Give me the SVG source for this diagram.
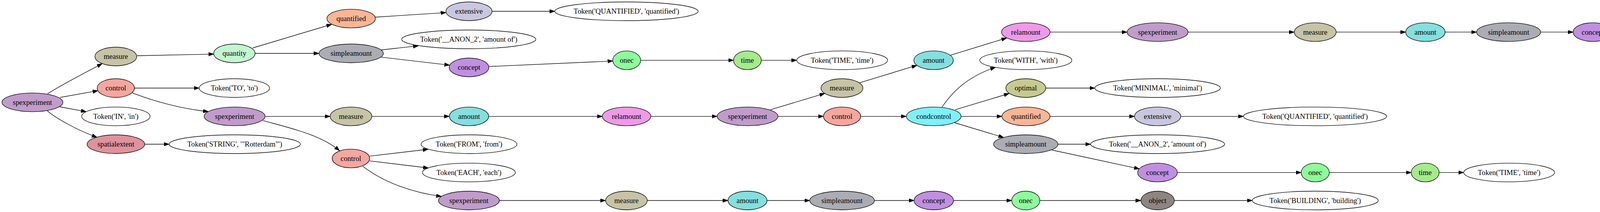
<svg xmlns="http://www.w3.org/2000/svg" width="4756" height="544" viewBox="0 0 4756 544">
<defs>
<marker id="arr" markerUnits="userSpaceOnUse" markerWidth="14" markerHeight="10" refX="13.3" refY="4.67" orient="auto">
<path d="M0,0 L13.3,4.67 L0,9.33 Z" fill="#000" stroke="#000" stroke-width="1"/>
</marker>
<style>
ellipse{stroke:#000;stroke-width:1.33}
text{font-family:"Liberation Serif","Times New Roman",serif;font-size:18.67px;text-anchor:middle;fill:#000}
.e path{fill:none;stroke:#000;stroke-width:1.33;marker-end:url(#arr)}
.tok{fill:#fff}
.spexp{fill:#c09ccb}
.measure{fill:#c6c3a6}
.control{fill:#f5a69f}
.spatial{fill:#df929c}
.quantity{fill:#c4f5d1}
.quantified{fill:#f9b596}
.simple{fill:#abacb4}
.extensive{fill:#c9c7df}
.concept{fill:#c18fe0}
.amount{fill:#85dfdf}
.onec{fill:#8efb9b}
.relamount{fill:#ee9ae8}
.time{fill:#a5ea8b}
.cond{fill:#7ff0f7}
.optimal{fill:#c6ca8f}
.object{fill:#8e8582}
</style>
</defs>
<rect width="4756" height="544" fill="#fff"/>
<g id="edges" class="e">
<path d="M121.7,240.7 C150,222 230,180 261.7,163.3"/>
<path d="M154,250 L250.7,232.7"/>
<path d="M152.7,274 L220.7,286.7"/>
<path d="M120.7,284 C145,305 200,335 248.3,352.3"/>
<path d="M351,143 L547,138.8"/>
<path d="M344.2,226 L510,226"/>
<path d="M339,238.7 C400,262 470,280 533.5,286.3"/>
<path d="M370.4,370 L433,370"/>
<path d="M647,123 L849,62.5"/>
<path d="M653,137 L816.6,137"/>
<path d="M678.6,298.6 L845.2,298.6"/>
<path d="M673.5,309.4 C740,328 820,345 869.3,386.8"/>
<path d="M960.6,44 L1141.7,32.3"/>
<path d="M1259.6,29 L1420.2,29"/>
<path d="M976.4,128 L1071,117.7"/>
<path d="M976.4,146.7 L1151,167.2"/>
<path d="M1251.4,170.7 L1568.9,156.6"/>
<path d="M952,298.6 L1150.4,298.6"/>
<path d="M1251,298.6 L1542,298.6"/>
<path d="M946.3,400.7 L1096,383"/>
<path d="M946.3,412.8 L1096.5,431"/>
<path d="M929,426.7 C985,470 1060,495 1130,504"/>
<path d="M1278.4,514.5 L1550.3,514.5"/>
<path d="M1640.1,154.7 L1877.9,154.7"/>
<path d="M1948.9,154.7 L2039.7,154.7"/>
<path d="M1666,298.6 L1836,298.6"/>
<path d="M1972.2,281.7 L2111.5,239.7"/>
<path d="M1991.6,298.6 L2108,298.6"/>
<path d="M1657.1,514.5 L1863.6,514.5"/>
<path d="M1963.6,514.5 L2072.8,514.5"/>
<path d="M2238.6,514.5 L2340,514.5"/>
<path d="M2200.8,212.3 L2347.3,167.6"/>
<path d="M2203.4,298.6 L2320.3,298.6"/>
<path d="M2433.3,141.7 L2577,97.5"/>
<path d="M2688,82.4 L2885.5,82.4"/>
<path d="M2411.7,275 C2440,232 2480,196 2548.3,172.7"/>
<path d="M2445,281.7 L2583.3,240"/>
<path d="M2460.3,298.6 L2565,298.6"/>
<path d="M2444,315 L2569.3,352.7"/>
<path d="M2677,226 L2802.8,226"/>
<path d="M2688,298.6 L2904.3,298.6"/>
<path d="M2708.4,370 L2792,370"/>
<path d="M2693,385 L2916.8,433.3"/>
<path d="M2441,514.5 L2590,514.5"/>
<path d="M2662,514.5 L2920.7,514.5"/>
<path d="M3041.5,82.4 L3313.4,82.4"/>
<path d="M3022.7,298.6 L3183.2,298.6"/>
<path d="M3014,442.7 L3331,442.7"/>
<path d="M3006.3,514.5 L3205.8,514.5"/>
<path d="M3420.6,82.4 L3598.5,82.4"/>
<path d="M3699.5,82.4 L3780,82.4"/>
<path d="M3403,442.7 L3612.8,442.7"/>
<path d="M3684.2,442.7 L3747.1,442.7"/>
<path d="M3944,82.4 L4027.3,82.4"/>
<path d="M4128.7,82.4 L4178,82.4"/>
<path d="M4250,82.4 L4298.6,82.4"/>
<path d="M4384.6,82.4 L4432.8,82.4"/>
</g>
<g id="n1"><ellipse class="spexp" cx="83" cy="262.6" rx="78" ry="24"/><text x="83" y="269">spexperiment</text></g>
<g id="n2"><ellipse class="measure" cx="296.5" cy="145" rx="53.5" ry="24"/><text x="296.5" y="151.4">measure</text></g>
<g id="n3"><ellipse class="control" cx="296.5" cy="226" rx="47.7" ry="24"/><text x="296.5" y="232.4">control</text></g>
<g id="n4"><ellipse class="tok" cx="296.7" cy="298.6" rx="87.5" ry="24"/><text x="296.7" y="305">Token('IN', 'in')</text></g>
<g id="n5"><ellipse class="spatial" cx="296.7" cy="370" rx="73.7" ry="24"/><text x="296.7" y="376.4">spatialextent</text></g>
<g id="n6"><ellipse class="quantity" cx="600" cy="137" rx="53" ry="24"/><text x="600" y="143.4">quantity</text></g>
<g id="n7"><ellipse class="tok" cx="600" cy="226" rx="90" ry="24"/><text x="600" y="232.4">Token('TO', 'to')</text></g>
<g id="n8"><ellipse class="spexp" cx="600.6" cy="298.6" rx="78" ry="24"/><text x="600.6" y="305">spexperiment</text></g>
<g id="n9"><ellipse class="tok" cx="601" cy="370" rx="168" ry="24"/><text x="601" y="376.4">Token('STRING', '"Rotterdam"')</text></g>
<g id="n10"><ellipse class="quantified" cx="899" cy="47.7" rx="62" ry="24"/><text x="899" y="54.1">quantified</text></g>
<g id="n11"><ellipse class="simple" cx="899" cy="137" rx="82.4" ry="24"/><text x="899" y="143.4">simpleamount</text></g>
<g id="n12"><ellipse class="measure" cx="898.6" cy="298.6" rx="53.4" ry="24"/><text x="898.6" y="305">measure</text></g>
<g id="n13"><ellipse class="control" cx="898.3" cy="406.6" rx="48" ry="24"/><text x="898.3" y="413">control</text></g>
<g id="n14"><ellipse class="extensive" cx="1200.6" cy="29" rx="59" ry="24"/><text x="1200.6" y="35.4">extensive</text></g>
<g id="n15"><ellipse class="tok" cx="1200" cy="101" rx="171.7" ry="24"/><text x="1200" y="107.4">Token('__ANON_2', 'amount of')</text></g>
<g id="n16"><ellipse class="concept" cx="1200.7" cy="173" rx="50.7" ry="24"/><text x="1200.7" y="179.4">concept</text></g>
<g id="n17"><ellipse class="amount" cx="1200.7" cy="298.6" rx="50.3" ry="24"/><text x="1200.7" y="305">amount</text></g>
<g id="n18"><ellipse class="tok" cx="1200.7" cy="370" rx="122.7" ry="24"/><text x="1200.7" y="376.4">Token('FROM', 'from')</text></g>
<g id="n19"><ellipse class="tok" cx="1200.4" cy="442.7" rx="118.9" ry="24"/><text x="1200.4" y="449.1">Token('EACH', 'each')</text></g>
<g id="n20"><ellipse class="spexp" cx="1200.4" cy="514.5" rx="78" ry="24"/><text x="1200.4" y="520.9">spexperiment</text></g>
<g id="n21"><ellipse class="tok" cx="1603.7" cy="29" rx="183.5" ry="24"/><text x="1603.7" y="35.4">Token('QUANTIFIED', 'quantified')</text></g>
<g id="n22"><ellipse class="onec" cx="1604.4" cy="154.7" rx="35.7" ry="24"/><text x="1604.4" y="161.1">onec</text></g>
<g id="n23"><ellipse class="relamount" cx="1604" cy="298.6" rx="62" ry="24"/><text x="1604" y="305">relamount</text></g>
<g id="n24"><ellipse class="measure" cx="1603.7" cy="514.5" rx="53.4" ry="24"/><text x="1603.7" y="520.9">measure</text></g>
<g id="n25"><ellipse class="time" cx="1913.4" cy="154.7" rx="35.5" ry="24"/><text x="1913.4" y="161.1">time</text></g>
<g id="n26"><ellipse class="spexp" cx="1913.8" cy="298.6" rx="77.8" ry="24"/><text x="1913.8" y="305">spexperiment</text></g>
<g id="n27"><ellipse class="amount" cx="1913.6" cy="514.5" rx="50" ry="24"/><text x="1913.6" y="520.9">amount</text></g>
<g id="n28"><ellipse class="tok" cx="2156" cy="154.7" rx="116.3" ry="24"/><text x="2156" y="161.1">Token('TIME', 'time')</text></g>
<g id="n29"><ellipse class="measure" cx="2155.4" cy="226" rx="53.6" ry="24"/><text x="2155.4" y="232.4">measure</text></g>
<g id="n30"><ellipse class="control" cx="2155.7" cy="298.6" rx="47.7" ry="24"/><text x="2155.7" y="305">control</text></g>
<g id="n31"><ellipse class="simple" cx="2155.7" cy="514.5" rx="82.9" ry="24"/><text x="2155.7" y="520.9">simpleamount</text></g>
<g id="n32"><ellipse class="amount" cx="2390" cy="154.7" rx="50.5" ry="24"/><text x="2390" y="161.1">amount</text></g>
<g id="n33"><ellipse class="cond" cx="2390.3" cy="298.6" rx="70" ry="24"/><text x="2390.3" y="305">condcontrol</text></g>
<g id="n34"><ellipse class="concept" cx="2390.5" cy="514.5" rx="50.5" ry="24"/><text x="2390.5" y="520.9">concept</text></g>
<g id="n35"><ellipse class="relamount" cx="2626" cy="82.4" rx="62" ry="24"/><text x="2626" y="88.8">relamount</text></g>
<g id="n36"><ellipse class="tok" cx="2626" cy="154.7" rx="117.9" ry="24"/><text x="2626" y="161.1">Token('WITH', 'with')</text></g>
<g id="n37"><ellipse class="optimal" cx="2626" cy="226" rx="51" ry="24"/><text x="2626" y="232.4">optimal</text></g>
<g id="n38"><ellipse class="quantified" cx="2626.5" cy="298.6" rx="61.5" ry="24"/><text x="2626.5" y="305">quantified</text></g>
<g id="n39"><ellipse class="simple" cx="2626" cy="370" rx="82.4" ry="24"/><text x="2626" y="376.4">simpleamount</text></g>
<g id="n40"><ellipse class="onec" cx="2626" cy="514.5" rx="36" ry="24"/><text x="2626" y="520.9">onec</text></g>
<g id="n41"><ellipse class="spexp" cx="2963.5" cy="82.4" rx="78" ry="24"/><text x="2963.5" y="88.8">spexperiment</text></g>
<g id="n42"><ellipse class="tok" cx="2963.5" cy="226" rx="160.7" ry="24"/><text x="2963.5" y="232.4">Token('MINIMAL', 'minimal')</text></g>
<g id="n43"><ellipse class="extensive" cx="2963.5" cy="298.6" rx="59.2" ry="24"/><text x="2963.5" y="305">extensive</text></g>
<g id="n44"><ellipse class="tok" cx="2963.5" cy="370" rx="171.5" ry="24"/><text x="2963.5" y="376.4">Token('__ANON_2', 'amount of')</text></g>
<g id="n45"><ellipse class="concept" cx="2963.2" cy="442.7" rx="50.8" ry="24"/><text x="2963.2" y="449.1">concept</text></g>
<g id="n46"><ellipse class="object" cx="2963.5" cy="514.5" rx="42.8" ry="24"/><text x="2963.5" y="520.9">object</text></g>
<g id="n47"><ellipse class="measure" cx="3367" cy="82.4" rx="53.6" ry="24"/><text x="3367" y="88.8">measure</text></g>
<g id="n48"><ellipse class="tok" cx="3366.6" cy="298.6" rx="183.4" ry="24"/><text x="3366.6" y="305">Token('QUANTIFIED', 'quantified')</text></g>
<g id="n49"><ellipse class="onec" cx="3367" cy="442.7" rx="36" ry="24"/><text x="3367" y="449.1">onec</text></g>
<g id="n50"><ellipse class="tok" cx="3367" cy="514.5" rx="161.2" ry="24"/><text x="3367" y="520.9">Token('BUILDING', 'building')</text></g>
<g id="n51"><ellipse class="amount" cx="3649" cy="82.4" rx="50.5" ry="24"/><text x="3649" y="88.8">amount</text></g>
<g id="n52"><ellipse class="time" cx="3648.5" cy="442.7" rx="35.7" ry="24"/><text x="3648.5" y="449.1">time</text></g>
<g id="n53"><ellipse class="simple" cx="3862" cy="82.4" rx="82" ry="24"/><text x="3862" y="88.8">simpleamount</text></g>
<g id="n54"><ellipse class="tok" cx="3863.4" cy="442.7" rx="116.3" ry="24"/><text x="3863.4" y="449.1">Token('TIME', 'time')</text></g>
<g id="n55"><ellipse class="concept" cx="4078" cy="82.4" rx="50.7" ry="24"/><text x="4078" y="88.8">concept</text></g>
<g id="n56"><ellipse class="onec" cx="4214" cy="82.4" rx="36" ry="24"/><text x="4214" y="88.8">onec</text></g>
<g id="n57"><ellipse class="object" cx="4341.6" cy="82.4" rx="43" ry="24"/><text x="4341.6" y="88.8">object</text></g>
<g id="n58"><ellipse class="tok" cx="4591.4" cy="82.4" rx="158.6" ry="24"/><text x="4591.4" y="88.8">Token('HOSPITAL', 'hospital')</text></g>
</svg>
